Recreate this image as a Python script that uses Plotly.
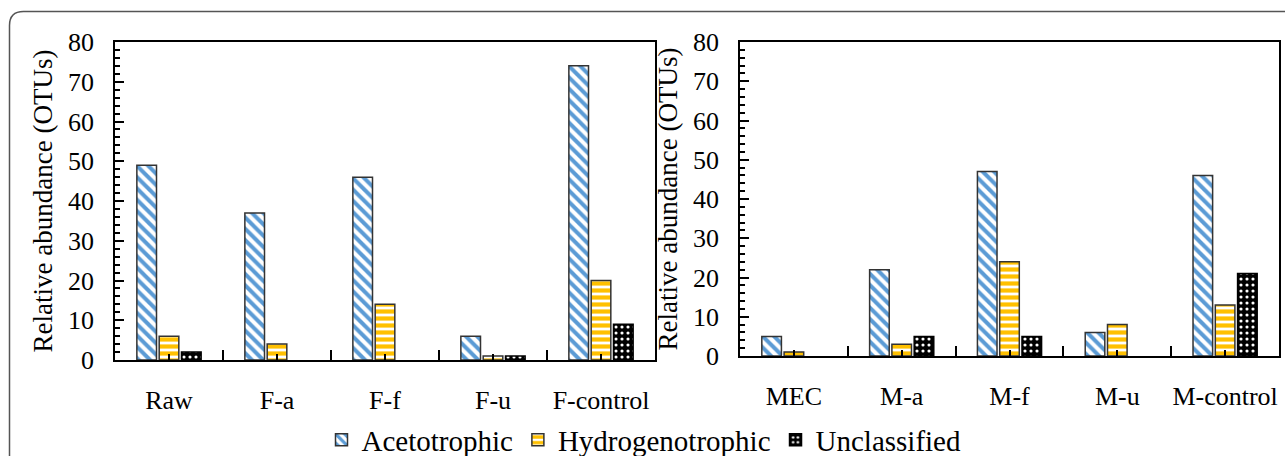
import plotly.graph_objects as go

# ---- data ----
left_categories = ["Raw", "F-a", "F-f", "F-u", "F-control"]
right_categories = ["MEC", "M-a", "M-f", "M-u", "M-control"]
series_names = ["Acetotrophic", "Hydrogenotrophic", "Unclassified"]

left_aceto = [49, 37, 46, 6, 74]
left_hydro = [6, 4, 14, 1, 20]
left_uncl = [2, 0, 0, 1, 9]

right_aceto = [5, 22, 47, 6, 46]
right_hydro = [1, 3, 24, 8, 13]
right_uncl = [0, 5, 5, 0, 21]

y_ticks = [0, 10, 20, 30, 40, 50, 60, 70, 80]
y_title = "Relative abundance (OTUs)"

# ---- styles ----
W, H = 1285, 456
FONT = "Liberation Serif"
styles = [
    dict(color="white", line=dict(color="#333333", width=1.5),
         pattern=dict(shape="\\", fgcolor="#5B9BD5", bgcolor="white", size=8, solidity=0.5, fillmode="replace")),
    dict(color="white", line=dict(color="#333333", width=1.5),
         pattern=dict(shape="-", fgcolor="#FFC000", bgcolor="white", size=7, solidity=0.6, fillmode="replace")),
    dict(color="black", line=dict(color="#000000", width=1.5),
         pattern=dict(shape=".", fgcolor="white", bgcolor="black", size=6, solidity=0.22, fillmode="replace")),
]

fig = go.Figure()

def add_panel(cats, vals_list, xa, ya, show):
    xs = list(range(len(cats)))
    for name, vals, st in zip(series_names, vals_list, styles):
        ys = [v if v else None for v in vals]
        fig.add_trace(go.Bar(x=xs, y=ys, name=name, marker=st, xaxis=xa, yaxis=ya,
                             showlegend=show, legendgroup=name))

add_panel(left_categories, [left_aceto, left_hydro, left_uncl], "x", "y", True)
add_panel(right_categories, [right_aceto, right_hydro, right_uncl], "x2", "y2", False)

def px_x(p):
    return p / W

def px_y(p):
    return 1 - p / H

def xaxis_cfg(cats, dom):
    n = len(cats)
    return dict(domain=dom, range=[-0.5, n - 0.5], tickmode="array",
                tickvals=list(range(n)), ticktext=cats, ticks="inside", ticklen=6,
                tickwidth=1.5, tickcolor="black",
                minor=dict(tickmode="array", tickvals=[i + 0.5 for i in range(n - 1)],
                           ticks="inside", ticklen=10, tickwidth=1.5, tickcolor="black"),
                showline=True, linecolor="black", linewidth=1.5, mirror=True,
                showgrid=False, zeroline=False, ticklabelstandoff=16, automargin=False,
                tickfont=dict(family=FONT, size=26, color="black"), fixedrange=True)

def yaxis_cfg(dom, anchor):
    return dict(domain=dom, anchor=anchor, range=[0, 80], tickmode="array", tickvals=y_ticks,
                ticks="inside", ticklen=9, tickwidth=1.5, tickcolor="black",
                minor=dict(dtick=2, ticks="inside", ticklen=5, tickwidth=1.5, tickcolor="black"),
                showline=True, linecolor="black", linewidth=1.5, mirror=True,
                showgrid=False, zeroline=False, ticklabelstandoff=14, automargin=False,
                tickfont=dict(family=FONT, size=26, color="black"),
                title=dict(text=y_title, font=dict(family=FONT, size=27, color="black"), standoff=8),
                fixedrange=True)

fig.update_layout(
    width=W, height=H, margin=dict(l=0, r=0, t=0, b=0, autoexpand=False),
    paper_bgcolor="white", plot_bgcolor="white",
    font=dict(family=FONT, color="black"),
    barmode="group", bargap=0.38, bargroupgap=0.12,
    xaxis=dict(**xaxis_cfg(left_categories, [px_x(115), px_x(655)]), anchor="y"),
    yaxis=yaxis_cfg([px_y(360), px_y(42)], "x"),
    xaxis2=dict(**xaxis_cfg(right_categories, [px_x(740), px_x(1279)]), anchor="y2"),
    yaxis2=yaxis_cfg([px_y(356), px_y(42)], "x2"),
    legend=dict(orientation="h", x=px_x(644), xanchor="center", y=px_y(440), yanchor="middle",
                font=dict(family=FONT, size=29, color="black"), bgcolor="rgba(0,0,0,0)",
                itemwidth=30, tracegroupgap=0),
    showlegend=True,
)

# rounded outer frame (top-left corner visible)
x0, yt, r = 9.5, 11.5, 14
path = (f"M {px_x(x0)},{px_y(H + 20)} L {px_x(x0)},{px_y(yt + r)} "
        f"Q {px_x(x0)},{px_y(yt)} {px_x(x0 + r)},{px_y(yt)} L {px_x(W + 20)},{px_y(yt)}")
fig.add_shape(type="path", path=path, xref="paper", yref="paper",
              line=dict(color="#555555", width=1.5))

fig.write_html("out.html", config={"displayModeBar": False},
               post_script="document.body.style.margin='0';document.body.style.overflow='hidden';")
